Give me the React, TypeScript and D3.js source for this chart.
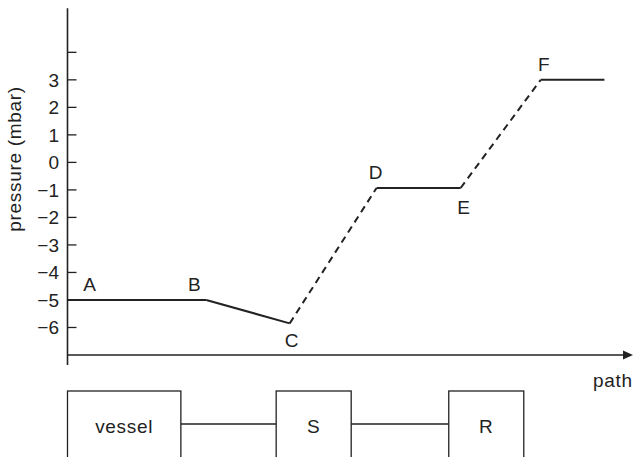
import React from 'react';
import * as d3 from 'd3';

// Pressure profile along the path (arbitrary path units)
const pointLabels = ['A', 'B', 'C', 'D', 'E', 'F', ''];
const pathPos = [0, 2.46, 3.94, 5.48, 6.97, 8.39, 9.52];
const pressure = [-5, -5, -5.85, -0.93, -0.93, 3, 3];
// kind of each segment between consecutive points
const segmentKind = ['measured', 'measured', 'transition', 'measured', 'transition', 'measured'];

const yTicks = [-6, -5, -4, -3, -2, -1, 0, 1, 2, 3, 4];
const yTickLabels = ['−6', '−5', '−4', '−3', '−2', '−1', '0', '1', '2', '3', ''];

const components = ['vessel', 'S', 'R'];
const compStart = [0, 3.7, 6.76];
const compEnd = [2.01, 5.03, 8.09];

const W = 633;
const H = 457;
const INK = '#222';
const FONT = '"Liberation Sans", Arial, sans-serif';
const FS = 19;
const LS = 0.7;

export default function App() {
  const x = d3.scaleLinear().domain([0, 10]).range([67.5, 631.5]);
  const y = d3.scaleLinear().domain([-7, 5.6]).range([355, 8.3]);

  const pts = pathPos.map((p, i) => [x(p), y(pressure[i])] as [number, number]);
  const line = d3.line<[number, number]>();

  // label offsets (dx, dy) relative to each point
  const labelOffset: [number, number][] = [
    [22, -9], [-12, -9], [2, 24], [-1, -9], [3, 26], [3, -9], [0, 0],
  ];

  const boxTop = 391;
  const boxBottom = 470;
  const connectorY = 424;

  return (
    <svg width={W} height={H} style={{ position: 'absolute', left: 0, top: 0, background: '#fff' }}
      fontFamily={FONT}>
      <rect x={0} y={0} width={W} height={H} fill="#fff" />
      {/* y axis */}
      <line x1={x(0)} x2={x(0)} y1={y(5.6)} y2={365} stroke={INK} strokeWidth={1.6} />
      {yTicks.map((t, i) => (
        <g key={t}>
          <line x1={x(0)} x2={x(0) + 9} y1={y(t)} y2={y(t)} stroke={INK} strokeWidth={1.3} />
          <text x={59} y={y(t)} dy="0.36em" textAnchor="end" fontSize={FS} fill={INK}>
            {yTickLabels[i]}
          </text>
        </g>
      ))}
      <text transform={`translate(21,159) rotate(-90)`} textAnchor="middle" fontSize={FS}
        letterSpacing={LS} fill={INK}>
        pressure (mbar)
      </text>
      {/* x axis */}
      <line x1={x(0)} x2={624} y1={y(-7)} y2={y(-7)} stroke={INK} strokeWidth={1.6} />
      <path d={`M623,${y(-7) - 4.5}L633,${y(-7)}L623,${y(-7) + 4.5}Z`} fill={INK} />
      <text x={593} y={387} fontSize={FS} letterSpacing={LS} fill={INK}>path</text>

      {/* profile */}
      {segmentKind.map((k, i) => (
        <path key={i} d={line([pts[i], pts[i + 1]]) || ''} fill="none" stroke={INK}
          strokeWidth={2}
          strokeDasharray={k === 'transition' ? '7,5' : undefined} />
      ))}
      {pointLabels.map((l, i) => l ? (
        <text key={l} x={pts[i][0] + labelOffset[i][0]} y={pts[i][1] + labelOffset[i][1]}
          textAnchor="middle" fontSize={FS} fill={INK}>{l}</text>
      ) : null)}

      {/* components */}
      {components.slice(0, -1).map((c, i) => (
        <line key={c} x1={x(compEnd[i])} x2={x(compStart[i + 1])} y1={connectorY} y2={connectorY}
          stroke={INK} strokeWidth={1.3} />
      ))}
      {components.map((c, i) => (
        <g key={c}>
          <rect x={x(compStart[i])} y={boxTop} width={x(compEnd[i]) - x(compStart[i])}
            height={boxBottom - boxTop} fill="none" stroke={INK} strokeWidth={1.3} />
          <text x={(x(compStart[i]) + x(compEnd[i])) / 2} y={433} textAnchor="middle"
            fontSize={FS} letterSpacing={LS} fill={INK}>{c}</text>
        </g>
      ))}
    </svg>
  );
}
